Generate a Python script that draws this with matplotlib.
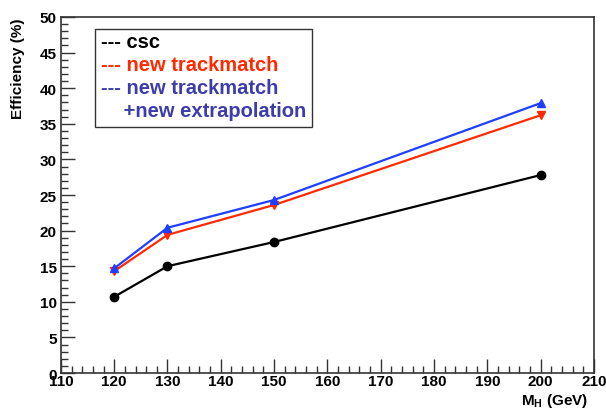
import matplotlib
matplotlib.use("Agg")
import matplotlib.pyplot as plt
from matplotlib.ticker import MultipleLocator

# Higgs mass points (GeV)
mass = [120, 130, 150, 200]
# efficiencies (%)
eff_csc = [10.7, 15.0, 18.4, 27.8]
eff_new_tm = [14.3, 19.4, 23.6, 36.2]
eff_new_tm_extrap = [14.7, 20.4, 24.3, 37.9]

plt.rcParams["font.family"] = ["Liberation Sans", "DejaVu Sans"]
plt.rcParams["font.weight"] = "bold"

fig = plt.figure(figsize=(6.06, 4.10), dpi=100)
ax = fig.add_axes([0.1005, 0.0878, 0.8795, 0.8683])

ax.plot(mass, eff_csc, color="black", marker="o", markersize=6, lw=1.6)
ax.plot(mass, eff_new_tm, color="#ff2a00", marker="v", markersize=6, lw=1.6)
ax.plot(mass, eff_new_tm_extrap, color="#1f3fff", marker="^", markersize=6, lw=1.6)

ax.set_xlim(110, 210)
ax.set_ylim(0, 50)
ax.xaxis.set_major_locator(MultipleLocator(10))
ax.xaxis.set_minor_locator(MultipleLocator(2))
ax.yaxis.set_major_locator(MultipleLocator(5))
ax.yaxis.set_minor_locator(MultipleLocator(1))
ax.tick_params(which="both", direction="in", top=False, right=False,
               labelsize=11, width=1.0, color="#333333")
ax.tick_params(which="major", length=10)
ax.tick_params(which="minor", length=5)
for lab in ax.get_xticklabels() + ax.get_yticklabels():
    lab.set_fontweight("bold")
ax.tick_params(axis="x", pad=1)
ax.tick_params(axis="y", pad=3)
for s in ax.spines.values():
    s.set_color("#333333")
    s.set_linewidth(1.2)

fig.text(0.03, 0.956, "Efficiency (%)", rotation=90, ha="center", va="top",
         fontsize=11, fontweight="bold")
fig.text(0.971, 0.0, r"M$_\mathregular{H}$ (GeV)", ha="right", va="bottom",
         fontsize=11, fontweight="bold")

# legend box, drawn ROOT-style with dashes as text
lx, ly = 0.157, 0.927
box = plt.Rectangle((lx, 0.688), 0.358, 0.24, transform=fig.transFigure,
                    fill=True, facecolor="white", edgecolor="#333333", lw=1.0)
fig.patches.append(box)
legend_rows = [
    ("--- csc", "black"),
    ("--- new trackmatch", "#ff2a00"),
    ("--- new trackmatch", "#3d3daa"),
    ("    +new extrapolation", "#3d3daa"),
]
for i, (txt, col) in enumerate(legend_rows):
    fig.text(lx + 0.01, ly - 0.03 - i * 0.056, txt, color=col, fontsize=14.5,
             fontweight="bold", va="center", ha="left")

fig.savefig("out.png", dpi=100)
